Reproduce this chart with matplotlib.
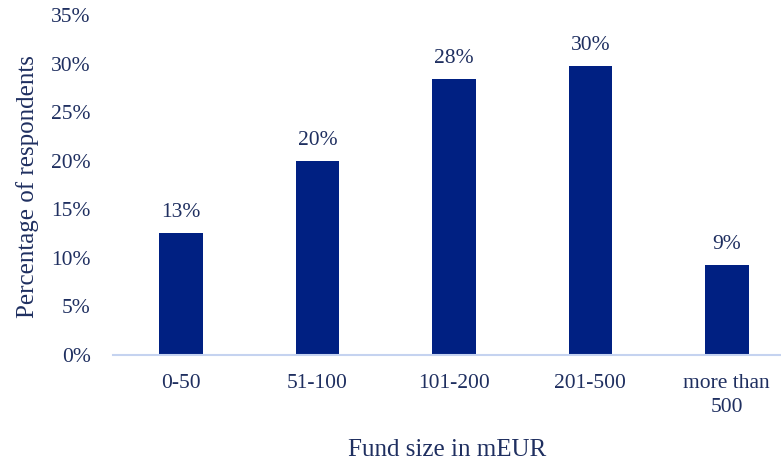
import numpy as np
import matplotlib
matplotlib.use("Agg")
import matplotlib.pyplot as plt
from matplotlib.ticker import PercentFormatter

categories = ["0-50", "51-100", "101-200", "201-500", "more than\n500"]
values = [12.6, 20.0, 28.4, 29.8, 9.3]
labels = ["13%", "20%", "28%", "30%", "9%"]

bar_color = "#002082"
text_color = "#1F2F60"

plt.rcParams['font.family'] = ['Liberation Serif', 'DejaVu Serif']

fig = plt.figure(figsize=(7.81, 4.63), dpi=100)
ax = fig.add_axes([113 / 781, 1 - 355 / 463, (795 - 113) / 781, 340 / 463])

x = np.arange(len(categories))
ax.bar(x, values, width=0.32, color=bar_color, zorder=2)
for xi, v, lab in zip(x, values, labels):
    ax.text(xi, v + 1.1, lab, ha='center', va='bottom', fontsize=15.5, color=text_color)

ax.set_xlim(-0.5, len(categories) - 0.5)
ax.set_ylim(0, 35)
ax.set_yticks(np.arange(0, 36, 5))
ax.yaxis.set_major_formatter(PercentFormatter(decimals=0))
ax.set_xticks(x)
ax.set_xticklabels(categories, linespacing=1.35)
ax.tick_params(axis='both', length=0, labelsize=15.5, colors=text_color)
ax.tick_params(axis='x', pad=14)
ax.tick_params(axis='y', pad=16)

for s in ['top', 'right', 'left']:
    ax.spines[s].set_visible(False)
ax.spines['bottom'].set_color('#C5D3F0')
ax.spines['bottom'].set_linewidth(1.5)

fig.text(447 / 781, 1 - 450 / 463, "Fund size in mEUR", ha='center', va='center',
         fontsize=18, color=text_color)
fig.text(28 / 781, 1 - 187 / 463, "Percentage of respondents", ha='center', va='center',
         rotation=90, fontsize=18, color=text_color)

fig.savefig("out.png", dpi=100)
